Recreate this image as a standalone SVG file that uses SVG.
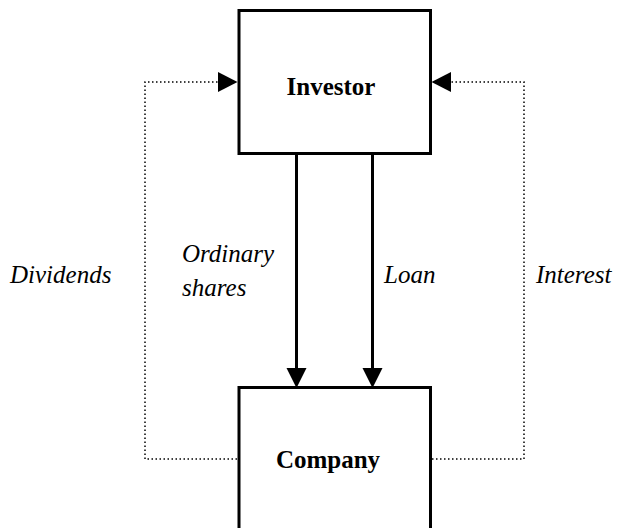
<svg xmlns="http://www.w3.org/2000/svg" width="619" height="528" viewBox="0 0 619 528">
<style>
.box{fill:#fff;stroke:#000;stroke-width:3}
.solid{stroke:#000;stroke-width:3;fill:none}
.dot{stroke:#000;stroke-width:1.5;fill:none;stroke-dasharray:1.5 2.5}
.head{fill:#000}
.nt{font-family:"Liberation Serif",serif;font-weight:bold;font-size:25px}
.lbl{font-family:"Liberation Serif",serif;font-style:italic;font-size:25px}
</style>
<rect width="619" height="528" fill="#fff"/>
<g id="connectors">
<line class="solid" x1="296.5" y1="153" x2="296.5" y2="370"/>
<polygon class="head" points="286.5,368 306.5,368 296.5,388"/>
<line class="solid" x1="372.5" y1="153" x2="372.5" y2="370"/>
<polygon class="head" points="362.5,368 382.5,368 372.5,388"/>
<polyline class="dot" points="237,459 145,459 145,82 220,82"/>
<polygon class="head" points="218,72 237.5,82 218,92"/>
<polyline class="dot" points="432,459 524,459 524,82 450,82"/>
<polygon class="head" points="451,72 431.5,82 451,92"/>
<text class="lbl" x="182" y="262">Ordinary</text>
<text class="lbl" x="182" y="296">shares</text>
<text class="lbl" x="10" y="283">Dividends</text>
<text class="lbl" x="384" y="283">Loan</text>
<text class="lbl" x="536" y="283">Interest</text>
</g>
<g id="investor">
<rect class="box" x="239" y="10.5" width="191.5" height="143"/>
<text class="nt" x="331" y="95" text-anchor="middle">Investor</text>
</g>
<g id="company">
<rect class="box" x="239" y="387.5" width="191.5" height="200"/>
<text class="nt" x="328" y="468" text-anchor="middle">Company</text>
</g>
</svg>
